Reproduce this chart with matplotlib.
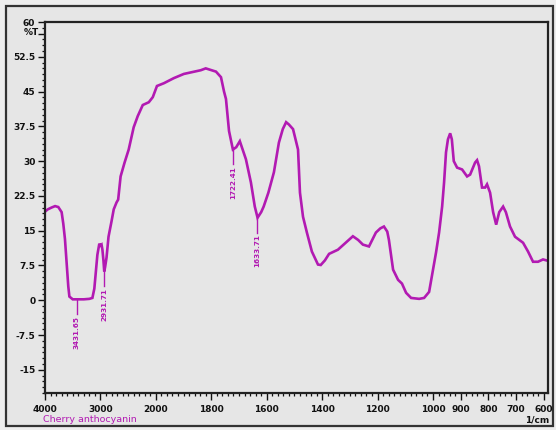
import numpy as np
import matplotlib
matplotlib.use("Agg")
import matplotlib.pyplot as plt
from matplotlib.patches import Rectangle
from matplotlib.ticker import FixedLocator, NullFormatter

# ---------------- spectrum (wavenumber 1/cm, %T) ----------------
wavenumber = [4000, 3950, 3880, 3818, 3760, 3700, 3670, 3640, 3610, 3580, 3560,
              3500, 3418, 3300, 3200, 3145, 3110, 3090, 3055, 3020, 3000, 2980,
              2964, 2945, 2931, 2915, 2890, 2854, 2800, 2760, 2709, 2680, 2636,
              2564, 2490, 2400, 2327, 2236, 2127, 2055, 1996, 1971, 1935, 1899,
              1838, 1820, 1783, 1765, 1754, 1747, 1736, 1722, 1710, 1697, 1675,
              1657, 1643, 1633, 1620, 1611, 1594, 1574, 1556, 1542, 1530, 1520,
              1505, 1487, 1480, 1469, 1455, 1437, 1415, 1405, 1390, 1375, 1343,
              1300, 1289, 1270, 1253, 1231, 1206, 1190, 1177, 1165, 1159, 1144,
              1126, 1112, 1097, 1079, 1050, 1032, 1014, 1000, 989, 978, 967, 960,
              953, 946, 938, 932, 925, 913, 895, 877, 866, 848, 841, 834, 823,
              812, 805, 794, 783, 772, 761, 747, 737, 722, 704, 675, 657, 639,
              621, 603, 585]
transmittance = [19.1, 19.6, 20.0, 20.3, 20.1, 19.0, 16.5, 13.2, 8.0, 3.0, 0.8,
                 0.2, 0.2, 0.2, 0.3, 0.5, 2.5, 5.1, 9.8, 12.2, 11.8, 12.0,
                 10.9, 8.5, 6.2, 7.2, 9.2, 13.7, 17.0, 19.6, 21.1, 21.7, 26.7,
                 29.7, 32.5, 37.3, 39.7, 42.1, 42.7, 43.8, 46.2, 46.8, 47.9, 48.8,
                 49.6, 50.0, 49.3, 48.1, 45.0, 43.4, 36.5, 32.5, 33.0, 34.3, 30.4,
                 25.4, 20.2, 17.8, 19.0, 20.2, 23.2, 27.6, 34.0, 36.9, 38.4, 37.9,
                 36.9, 32.5, 23.2, 18.0, 14.6, 10.5, 7.7, 7.6, 8.6, 10.0, 10.9,
                 13.2, 13.8, 13.0, 12.0, 11.6, 14.6, 15.5, 15.9, 14.8, 13.0, 6.6,
                 4.4, 3.6, 1.6, 0.5, 0.3, 0.5, 1.8, 6.6, 10.3, 14.6, 20.2, 25.4,
                 31.9, 34.7, 36.0, 34.7, 30.0, 28.6, 28.2, 26.7, 27.1, 29.7, 30.2,
                 28.9, 24.3, 24.3, 25.0, 23.2, 19.0, 16.3, 19.0, 20.2, 19.0, 15.9,
                 13.7, 12.4, 10.5, 8.3, 8.3, 8.8, 8.5]

# picked peaks (wavenumber, %T at the peak)
peak_wn = [3431.65, 2931.71, 1722.41, 1633.71]
peak_t = [0.2, 6.2, 32.5, 17.8]

sample_name = "Cherry anthocyanin"
line_color = "#b21ab2"

x_major = [4000, 3000, 2000, 1800, 1600, 1400, 1200, 1000, 900, 800, 700, 600]
y_major = [60, 52.5, 45, 37.5, 30, 22.5, 15, 7.5, 0, -7.5, -15]
y_labels = ["60", "", "52.5", "45", "37.5", "30", "22.5", "15", "7.5", "0",
            "-7.5", "-15"]

# axis is compressed 5x above 2000 1/cm (scale change of the instrument)
K = 0.2


def fwd(w):
    w = np.asarray(w, dtype=float)
    return np.where(w >= 2000, 2000 + (w - 2000) * K, w)


def inv(u):
    u = np.asarray(u, dtype=float)
    return np.where(u >= 2000, 2000 + (u - 2000) / K, u)


plt.rcParams["font.family"] = "DejaVu Sans"
fig = plt.figure(figsize=(5.56, 4.30), dpi=100, facecolor="#eeeeee")
fig.patches.append(Rectangle((6 / 556, 4 / 430), 547 / 556, 420 / 430,
                             transform=fig.transFigure, facecolor="#e6e6e6",
                             edgecolor="#333333", linewidth=1.6, zorder=-10))

ax = fig.add_axes([45 / 556, 37 / 430, 503 / 556, 371 / 430])
ax.set_facecolor("#e6e6e6")
ax.set_xscale("function", functions=(fwd, inv))
ax.set_xlim(4000, 585)
ax.set_ylim(-20, 60)

ax.plot(wavenumber, transmittance, color=line_color, lw=1.9,
        solid_joinstyle="miter")

# peak markers with vertical labels
for w, t in zip(peak_wn, peak_t):
    ax.plot([w, w], [t, t - 3.2], color=line_color, lw=1.0)
    ax.text(w, t - 3.5, f"{w:.2f}", rotation=90, ha="center", va="top",
            color=line_color, fontsize=5.2, fontweight="bold")

# ticks
ax.xaxis.set_major_locator(FixedLocator(x_major))
ax.set_xticklabels([str(v) for v in x_major])
x_minor = list(range(4000, 2000, -100)) + list(range(2000, 580, -20))
ax.xaxis.set_minor_locator(FixedLocator(x_minor))
ax.yaxis.set_major_locator(FixedLocator([60, 57.5] + y_major[1:]))
ax.set_yticklabels(y_labels)
ax.yaxis.set_minor_locator(FixedLocator(np.arange(-20, 60.01, 1.25)))
ax.xaxis.set_minor_formatter(NullFormatter())

ax.tick_params(axis="both", which="major", length=5, width=1.0,
               labelsize=6.5, pad=2, colors="#111111")
ax.tick_params(axis="both", which="minor", length=2.5, width=0.9,
               colors="#111111")
ax.tick_params(axis="x", pad=4)
for lab in ax.get_xticklabels() + ax.get_yticklabels():
    lab.set_fontweight("bold")

for s in ax.spines.values():
    s.set_linewidth(1.6)
    s.set_color("#222222")

ax.text(-0.012, (57.7 + 20) / 80, "%T", transform=ax.transAxes, ha="right",
        va="center", fontsize=6.5, fontweight="bold", color="#111111")

fig.text(43 / 556, 1 - 419 / 430, sample_name, color=line_color, fontsize=6.8,
         ha="left", va="center")
fig.text(537 / 556, 1 - 420 / 430, "1/cm", color="#111111", fontsize=6.5,
         fontweight="bold", ha="center", va="center")

fig.savefig("out.png", dpi=100, facecolor=fig.get_facecolor())
